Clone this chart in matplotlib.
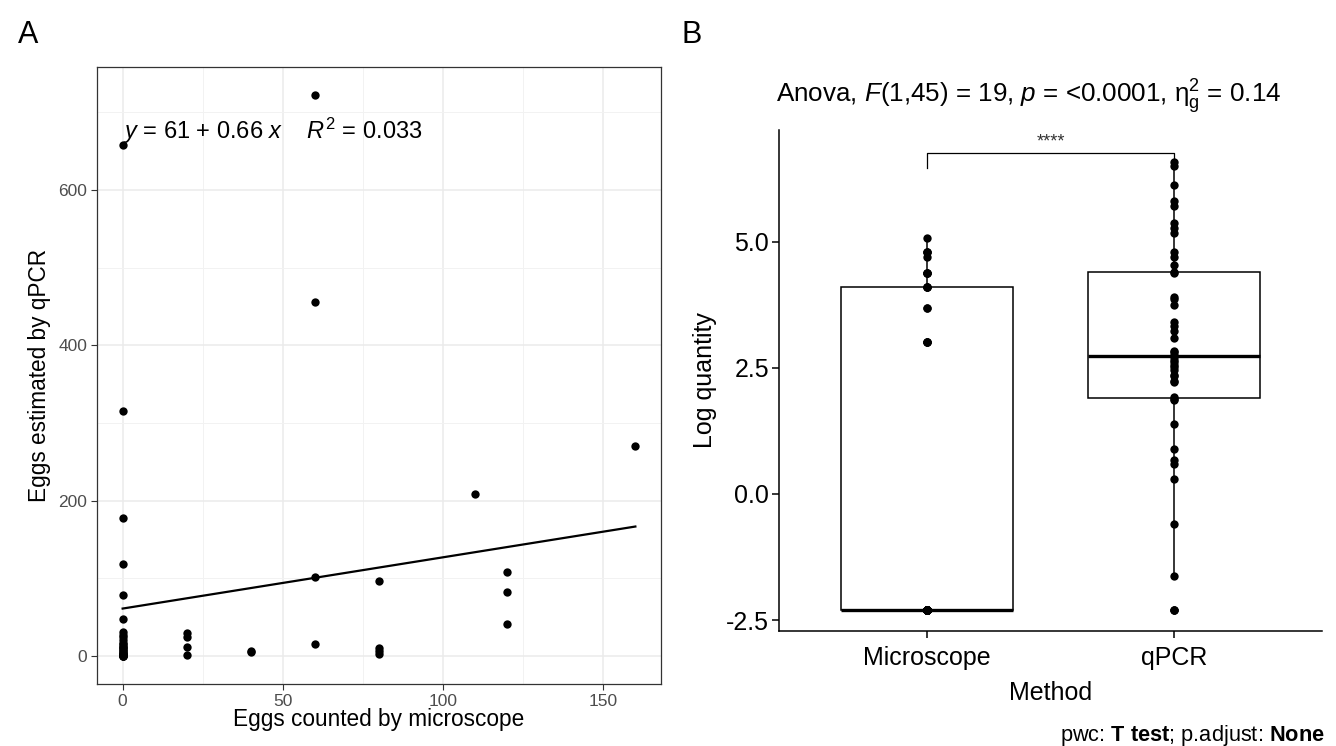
import numpy as np
import matplotlib
matplotlib.use("Agg")
import matplotlib.pyplot as plt

plt.rcParams['font.family'] = ['Liberation Sans', 'DejaVu Sans']
plt.rcParams['mathtext.fontset'] = 'custom'
plt.rcParams['mathtext.rm'] = 'Liberation Sans'
plt.rcParams['mathtext.it'] = 'Liberation Sans:italic'
plt.rcParams['mathtext.bf'] = 'Liberation Sans:bold'
plt.rcParams['axes.unicode_minus'] = False

# ---------------- Panel A data: eggs counted vs estimated ----------------
micro_counts = [0, 0, 0, 0, 0, 0, 0, 0, 0, 0, 0, 0, 0, 0, 0, 0, 0, 0, 0, 0, 0, 0, 0, 0, 0, 0, 0,
                20, 20, 20, 20,
                40, 40,
                60, 60, 60, 60,
                80, 80, 80, 80,
                110,
                120, 120, 120,
                160]
qpcr_eggs = [658, 315, 178, 118, 79, 47, 31, 27, 24, 20, 17, 15, 13, 11, 10, 9, 7, 6, 4, 3, 2, 2, 1, 0.5, 0.2, 0, 0,
             29, 25, 12, 1,
             6, 5,
             722, 455, 101, 15,
             96, 10, 6, 2,
             208,
             108, 82, 41,
             270]
fit_intercept = 61
fit_slope = 0.66
r_squared = 0.033

# ---------------- Panel B data: log quantity by method ----------------
methods = ["Microscope", "qPCR"]
micro_log = [-2.30] * 27 + [3.00, 3.00, 3.00, 3.00, 3.69, 3.69, 4.09, 4.09, 4.09, 4.09,
                            4.38, 4.38, 4.38, 4.38, 4.70, 4.79, 4.79, 4.79, 5.07]
qpcr_log = [-2.30, -2.30, -2.30, -1.62, -0.60, 0.29, 0.59, 0.67, 0.89, 1.39, 1.87, 1.89,
            1.92, 2.22, 2.24, 2.33, 2.35, 2.45, 2.52, 2.55, 2.62, 2.65, 2.72, 2.75,
            2.81, 2.83, 3.08, 3.22, 3.33, 3.41, 3.74, 3.87, 3.91, 4.38,
            4.40, 4.54, 4.70, 4.79, 5.17, 5.27, 5.37, 5.70, 5.80, 6.12, 6.50, 6.58]
anova_label = r"Anova, $F$(1,45) = 19, $p$ = <0.0001, $\mathrm{\eta}^2_\mathrm{g}$ = 0.14"
signif_label = "****"
footer_label = r"pwc: $\bf{T\ test}$; p.adjust: $\bf{None}$"

W, H = 1336, 746
fig = plt.figure(figsize=(W / 100, H / 100), dpi=100)


def fx(px):
    return px / W


def fy(py):
    return 1 - py / H


# ---------------- Panel A ----------------
aL, aR, aT, aB = 97, 661, 67, 684
axA = fig.add_axes([fx(aL), fy(aB), (aR - aL) / W, (aB - aT) / H])
axA.set_xlim(-8, 168)
axA.set_ylim(-36.1, 758.1)
axA.set_xticks([0, 50, 100, 150])
axA.set_yticks([0, 200, 400, 600])
axA.set_xticks([25, 75, 125], minor=True)
axA.set_yticks([100, 300, 500, 700], minor=True)
axA.grid(which='major', color='#EBEBEB', lw=1.1)
axA.grid(which='minor', color='#F2F2F2', lw=0.7)
axA.set_axisbelow(True)
for s in axA.spines.values():
    s.set_color('#333333')
    s.set_linewidth(0.9)
axA.tick_params(which='major', color='#333333', length=4, width=0.8,
                labelcolor='#4D4D4D', labelsize=12.5, pad=3)
axA.tick_params(which='minor', length=0)

axA.scatter(micro_counts, qpcr_eggs, s=36, color='black', linewidths=0, zorder=3)
xs = np.array([min(micro_counts), max(micro_counts)], dtype=float)
axA.plot(xs, fit_intercept + fit_slope * xs, color='black', lw=1.6, zorder=2)
eq = (r"$y$ = %g + %g $x$    $R^2$ = %g" % (fit_intercept, fit_slope, r_squared))
axA.text(0, 676, eq, fontsize=17, ha='left', va='center', zorder=4)

fig.text(fx((aL + aR) / 2), fy(726), "Eggs counted by microscope", fontsize=16.3,
         ha='center', va='baseline')
fig.text(fx(40), fy((aT + aB) / 2), "Eggs estimated by qPCR", fontsize=16.3,
         ha='center', va='center', rotation=90)

# ---------------- Panel B ----------------
bL, bR, bT, bB = 779, 1322, 130, 630.7
axB = fig.add_axes([fx(bL), fy(bB), (bR - bL) / W, (bB - bT) / H])
positions = [1, 2]
axB.boxplot([micro_log, qpcr_log], positions=positions, widths=0.7, whis=1.5,
            showfliers=False, showcaps=False, patch_artist=True,
            boxprops=dict(facecolor='white', edgecolor='black', lw=1.1),
            whiskerprops=dict(color='black', lw=1.1),
            medianprops=dict(color='black', lw=2.4), zorder=2)
for pos, vals in zip(positions, [micro_log, qpcr_log]):
    axB.scatter([pos] * len(vals), vals, s=36, color='black', linewidths=0, zorder=3)

axB.set_xlim(0.4, 2.6)
axB.set_ylim(-2.71, 7.21)
for side in ('top', 'right'):
    axB.spines[side].set_visible(False)
for side in ('left', 'bottom'):
    axB.spines[side].set_linewidth(1.1)
    axB.spines[side].set_color('black')
axB.tick_params(length=5, width=1.1, color='black', labelsize=18)
axB.tick_params(axis='y', pad=2)
axB.tick_params(axis='x', pad=6)
axB.set_yticks([-2.5, 0.0, 2.5, 5.0])
axB.set_yticklabels(["%.1f" % v for v in [-2.5, 0.0, 2.5, 5.0]])
axB.set_xticks(positions)
axB.set_xticklabels(methods)

top = max(max(micro_log), max(qpcr_log))
br_y = top + 0.18
tip = 0.3
axB.plot([positions[0], positions[0], positions[1], positions[1]],
         [br_y - tip, br_y, br_y, br_y - tip], color='black', lw=0.9, zorder=1)
axB.text(sum(positions) / 2, br_y + 0.04, signif_label, fontsize=13, ha='center',
         va='bottom', color='#333333')

fig.text(fx(776), fy(102.7), anova_label, fontsize=18.7, ha='left', va='baseline')
fig.text(fx((bL + bR) / 2), fy(700), "Method", fontsize=18, ha='center', va='baseline')
fig.text(fx(705), fy((bT + bB) / 2), "Log quantity", fontsize=18, ha='center',
         va='center', rotation=90)
fig.text(fx(1325), fy(741), footer_label, fontsize=15.7, ha='right', va='baseline')

fig.text(fx(18), fy(43), "A", fontsize=22, ha='left', va='baseline')
fig.text(fx(681), fy(43), "B", fontsize=22, ha='left', va='baseline')

fig.savefig("out.png", dpi=100, facecolor='white')
